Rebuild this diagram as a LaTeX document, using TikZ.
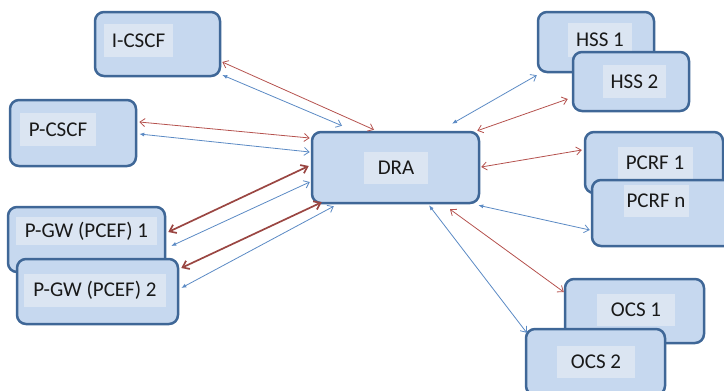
\documentclass[tikz,border=0pt]{standalone}
\usepackage{fontspec}
\setmainfont{Carlito}
\usetikzlibrary{arrows.meta,calc}

\definecolor{boxfill}{HTML}{C6D8EF}
\definecolor{boxline}{HTML}{3F6797}
\definecolor{tagfill}{HTML}{DBE5F2}
\definecolor{linkred}{HTML}{B5524E}
\definecolor{linkblue}{HTML}{5B8AC4}

\begin{document}
\begin{tikzpicture}[x=1pt,y=-1pt,
	box/.style={draw=boxline,line width=2.5pt,fill=boxfill,rounded corners=9pt,inner sep=0pt},
	tag/.style={fill=tagfill,inner sep=0pt,text=black!90,font=\fontsize{21}{25}\selectfont},
	redlink/.style={draw=linkred,line width=0.8pt,{Straight Barb[length=5pt,width=8pt]}-{Straight Barb[length=5pt,width=8pt]}},
	boldred/.style={draw=linkred!85!black,line width=1.7pt,{Straight Barb[length=6pt,width=9pt]}-{Straight Barb[length=6pt,width=9pt]}},
	bluelink/.style={draw=linkblue,line width=0.8pt,{Latex[length=5pt,width=4pt]}-{Straight Barb[length=5pt,width=8pt]}}]
	\clip (0,0) rectangle (724,391);
	\useasboundingbox (0,0) rectangle (724,391);
	% left side
	\node[box,minimum width=125pt,minimum height=64pt] (icscf) at (157.5,44) {};
	\node[tag,minimum width=69pt,minimum height=33pt] (icscflbl) at (138.5,40.5) {I-CSCF};
	\node[box,minimum width=126pt,minimum height=66pt] (pcscf) at (73,133) {};
	\node[tag,minimum width=76pt,minimum height=33pt] (pcscflbl) at (58,129.5) {P-CSCF};
	\node[box,minimum width=157pt,minimum height=65pt] (pgw1) at (86.5,239.5) {};
	\node[tag,minimum width=141pt,minimum height=28pt] (pgw1lbl) at (86.5,231) {P-GW (PCEF) 1};
	\node[box,minimum width=161pt,minimum height=65pt] (pgw2) at (97.5,291.5) {};
	\node[tag,minimum width=142pt,minimum height=33pt] (pgw2lbl) at (95,290.5) {P-GW (PCEF) 2};
	% centre
	\node[box,minimum width=167pt,minimum height=71pt] (dra) at (395.5,167.5) {};
	\node[tag,minimum width=64pt,minimum height=32pt] (dralbl) at (396,168) {DRA};
	% right side
	\node[box,minimum width=116pt,minimum height=60pt] (hss1) at (596,42) {};
	\node[tag,minimum width=64pt,minimum height=34pt] (hss1lbl) at (600,40) {HSS 1};
	\node[box,minimum width=116pt,minimum height=59pt] (hss2) at (631,81.5) {};
	\node[tag,minimum width=63pt,minimum height=33pt] (hss2lbl) at (634.5,81.5) {HSS 2};
	\node[box,minimum width=138pt,minimum height=61pt] (pcrf1) at (654,162.5) {};
	\node[tag,minimum width=75pt,minimum height=32pt] (pcrf1lbl) at (655,163) {PCRF 1};
	\node[box,minimum width=143pt,minimum height=66pt] (pcrfn) at (663.5,213) {};
	\node[tag,minimum width=65pt,minimum height=32pt] (pcrfnlbl) at (656,201) {PCRF n};
	\node[box,minimum width=139pt,minimum height=64pt] (ocs1) at (634.5,311) {};
	\node[tag,minimum width=78pt,minimum height=32pt] (ocs1lbl) at (636,310) {OCS 1};
	\node[box,minimum width=139pt,minimum height=66pt] (ocs2) at (595.5,362) {};
	\node[tag,minimum width=78pt,minimum height=32pt] (ocs2lbl) at (596,362) {OCS 2};
	% links to the DRA
	\draw[redlink] ($(icscf.east)+(1,18)$) -- ($(dra.north)+(-21.5,-1)$);
	\draw[bluelink] ($(icscf.east)+(1,31)$) -- ($(dra.north)+(-53.5,-5)$);
	\draw[redlink] ($(pcscf.east)+(2,-11)$) -- ($(dra.west)+(-1,-29.5)$);
	\draw[bluelink] ($(pcscf.east)+(2,1)$) -- ($(dra.west)+(-1,-15.5)$);
	\draw[boldred] ($(pgw1.east)+(2,-7.5)$) -- ($(dra.west)+(-2,-1.5)$);
	\draw[bluelink] ($(pgw1.east)+(5,6.5)$) -- ($(dra.west)+(-1,14.5)$);
	\draw[boldred] ($(pgw2.east)+(2,-23.5)$) -- ($(dra.south west)+(11,-2)$);
	\draw[bluelink] ($(pgw2.east)+(2,-3.5)$) -- ($(dra.south west)+(23,2)$);
	\draw[bluelink] ($(dra.north)+(56.5,-7)$) -- ($(hss1.south west)+(0,2)$);
	\draw[redlink] ($(dra.north east)+(-3,0)$) -- ($(hss2.west)+(-4,17.5)$);
	\draw[redlink] ($(dra.east)+(1,-0.5)$) -- ($(pcrf1.west)+(-2,-12.5)$);
	\draw[bluelink] ($(dra.south east)+(-2,1)$) -- ($(pcrfn.west)+(-1,17)$);
	\draw[redlink] ($(dra.south)+(54.5,5)$) -- ($(ocs1.west)+(0,-19)$);
	\draw[bluelink] ($(dra.south)+(33.5,1)$) -- ($(ocs2.north west)+(2,5)$);
\end{tikzpicture}
\end{document}
